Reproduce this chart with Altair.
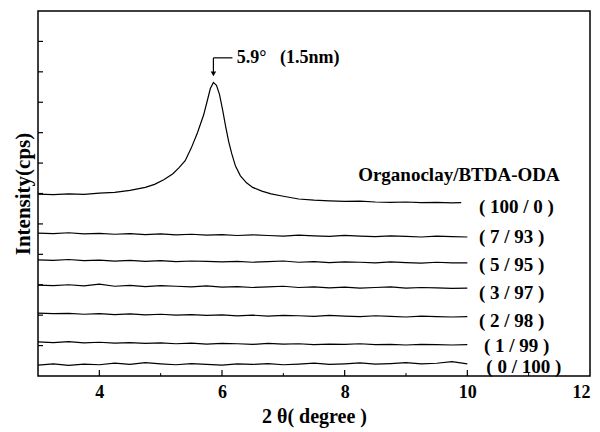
import altair as alt
import pandas as pd

# ---- data ----
x_flat = [3.0, 3.25, 3.5, 3.75, 4.0, 4.25, 4.5, 4.75, 5.0, 5.25, 5.5, 5.75, 6.0, 6.25, 6.5,
          6.75, 7.0, 7.25, 7.5, 7.75, 8.0, 8.25, 8.5, 8.75, 9.0, 9.25, 9.5, 9.75, 10.0]

y_0_100 = [0.36, 0.40, 0.35, 0.39, 0.37, 0.42, 0.38, 0.44, 0.40, 0.37, 0.41, 0.38, 0.36, 0.40, 0.38,
           0.41, 0.37, 0.39, 0.42, 0.38, 0.40, 0.43, 0.39, 0.41, 0.44, 0.40, 0.42, 0.47, 0.40]
y_1_99 = [1.12, 1.10, 1.13, 1.09, 1.11, 1.08, 1.10, 1.07, 1.09, 1.06, 1.08, 1.05, 1.07, 1.06, 1.04,
          1.07, 1.05, 1.06, 1.03, 1.05, 1.04, 1.06, 1.03, 1.04, 1.02, 1.04, 1.03, 1.02, 1.03]
y_2_98 = [2.07, 2.05, 2.06, 2.03, 2.05, 2.02, 2.04, 2.01, 2.03, 2.00, 2.02, 1.99, 2.01, 1.98, 2.00,
          1.97, 1.99, 1.98, 1.96, 1.99, 1.97, 1.95, 1.98, 1.96, 1.94, 1.97, 1.95, 1.94, 1.95]
y_3_97 = [2.99, 2.97, 3.00, 2.96, 3.02, 2.95, 2.98, 2.94, 2.97, 2.95, 2.93, 2.96, 2.92, 2.94, 2.91,
          2.93, 2.95, 2.91, 2.93, 2.90, 2.92, 2.89, 2.91, 2.93, 2.89, 2.91, 2.90, 2.88, 2.89]
y_5_95 = [3.82, 3.80, 3.83, 3.79, 3.81, 3.78, 3.80, 3.77, 3.79, 3.76, 3.78, 3.77, 3.75, 3.77, 3.74,
          3.76, 3.78, 3.74, 3.76, 3.73, 3.75, 3.74, 3.72, 3.75, 3.73, 3.71, 3.74, 3.72, 3.72]
y_7_93 = [4.70, 4.68, 4.71, 4.67, 4.69, 4.66, 4.68, 4.65, 4.67, 4.64, 4.66, 4.63, 4.65, 4.62, 4.64,
          4.62, 4.60, 4.63, 4.61, 4.59, 4.62, 4.60, 4.58, 4.61, 4.59, 4.57, 4.60, 4.58, 4.57]

x_100_0 = [3.0, 3.25, 3.5, 3.75, 4.0, 4.25, 4.5, 4.75, 4.9, 5.05, 5.2, 5.3, 5.4, 5.5, 5.6, 5.7,
           5.76, 5.81, 5.86, 5.91, 5.96, 6.01, 6.06, 6.11, 6.16, 6.22, 6.3, 6.4, 6.5, 6.65, 6.8,
           7.0, 7.25, 7.5, 7.75, 8.0, 8.25, 8.5, 8.75, 9.0, 9.25, 9.5, 9.75, 9.9]
y_100_0 = [5.98, 5.96, 5.99, 5.97, 6.01, 6.04, 6.10, 6.20, 6.30, 6.45, 6.65, 6.85, 7.08, 7.50, 8.00, 8.58,
           9.05, 9.45, 9.65, 9.56, 9.25, 8.75, 8.20, 7.70, 7.30, 6.90, 6.58, 6.35, 6.20, 6.08, 5.99,
           5.91, 5.82, 5.78, 5.76, 5.74, 5.75, 5.72, 5.71, 5.72, 5.70, 5.71, 5.69, 5.70]

series_names = ["( 100 / 0 )", "( 7 / 93 )", "( 5 / 95 )", "( 3 / 97 )", "( 2 / 98 )", "( 1 / 99 )", "( 0 / 100 )"]
label_x = [10.19, 10.19, 10.19, 10.19, 10.19, 10.27, 10.31]
label_y = [5.56, 4.56, 3.64, 2.72, 1.80, 1.00, 0.30]

x_ticks_major = [4, 6, 8, 10]
x_ticks_minor = [5, 7, 9, 11]
y_ticks = [1, 2, 3, 4, 5, 6, 7, 8, 9, 10, 11]

peak_x = 5.86
peak_text = "5.9°\u00a0\u00a0\u00a0(1.5nm)"
legend_title = "Organoclay/BTDA-ODA"

# ---- build tables ----
rows = []
flat = {"( 7 / 93 )": y_7_93, "( 5 / 95 )": y_5_95, "( 3 / 97 )": y_3_97,
        "( 2 / 98 )": y_2_98, "( 1 / 99 )": y_1_99, "( 0 / 100 )": y_0_100}
for name, ys in flat.items():
    for xv, yv in zip(x_flat, ys):
        rows.append({"s": name, "x": xv, "y": yv})
for xv, yv in zip(x_100_0, y_100_0):
    rows.append({"s": "( 100 / 0 )", "x": xv, "y": yv})
lines_df = pd.DataFrame(rows)

labels_df = pd.DataFrame({"s": series_names, "x": label_x, "y": label_y})

SERIF = "Liberation Serif"
xscale = alt.Scale(domain=[3, 12], nice=False, zero=False)
yscale = alt.Scale(domain=[0, 12], nice=False, zero=False)

X = alt.X("x:Q", scale=xscale,
          axis=alt.Axis(values=[4, 6, 8, 10, 12], format="d", tickSize=0, domain=False, grid=False,
                        labelFont=SERIF, labelFontWeight="bold", labelFontSize=18,
                        labelColor="black", labelPadding=7,
                        title="2 θ( degree )", titleFont=SERIF, titleFontWeight="bold",
                        titleFontSize=20, titleColor="black", titlePadding=5))
Y = alt.Y("y:Q", scale=yscale,
          axis=alt.Axis(labels=False, ticks=False, domain=False, grid=False,
                        title="Intensity(cps)", titleFont=SERIF, titleFontWeight="bold",
                        titleFontSize=21, titleColor="black", titlePadding=5))

base = alt.Chart(lines_df)
lines = base.mark_line(color="black", strokeWidth=1.2).encode(x=X, y=Y, detail="s:N")

xt_major = alt.Chart(pd.DataFrame({"x": x_ticks_major})).mark_rule(color="black", strokeWidth=1.2).encode(
    x="x:Q", y=alt.value(365), y2=alt.value(359))
xt_minor = alt.Chart(pd.DataFrame({"x": x_ticks_minor})).mark_rule(color="black", strokeWidth=1).encode(
    x="x:Q", y=alt.value(365), y2=alt.value(362))
yt = alt.Chart(pd.DataFrame({"y": y_ticks})).mark_rule(color="black", strokeWidth=1.2).encode(
    y="y:Q", x=alt.value(0), x2=alt.value(5))

labels = alt.Chart(labels_df).mark_text(align="left", baseline="middle", font=SERIF,
                                        fontWeight="bold", fontSize=19, color="black").encode(
    x="x:Q", y="y:Q", text="s:N")

title_txt = alt.Chart(pd.DataFrame({"x": [8.22], "y": [6.61], "t": [legend_title]})).mark_text(
    align="left", baseline="middle", font=SERIF, fontWeight="bold", fontSize=19, color="black").encode(
    x="x:Q", y="y:Q", text="t:N")

arrow_v = alt.Chart(pd.DataFrame({"x": [peak_x], "y": [10.46], "y2": [9.95]})).mark_rule(
    color="black", strokeWidth=1.2).encode(x="x:Q", y="y:Q", y2="y2:Q")
arrow_h = alt.Chart(pd.DataFrame({"x": [peak_x], "x2": [6.17], "y": [10.46]})).mark_rule(
    color="black", strokeWidth=1.2).encode(x="x:Q", x2="x2:Q", y="y:Q")
arrow_head = alt.Chart(pd.DataFrame({"x": [peak_x], "y": [9.93]})).mark_point(
    shape="triangle-down", filled=True, color="black", size=30, opacity=1).encode(x="x:Q", y="y:Q")
peak_lbl = alt.Chart(pd.DataFrame({"x": [6.24], "y": [10.46], "t": [peak_text]})).mark_text(
    align="left", baseline="middle", font=SERIF, fontWeight="bold", fontSize=18, color="black").encode(
    x="x:Q", y="y:Q", text="t:N")

chart = alt.layer(lines, xt_major, xt_minor, yt, labels, title_txt, arrow_v, arrow_h, arrow_head, peak_lbl).properties(
    width=552, height=365,
    autosize="none",
    padding={"left": 30, "top": 3, "right": 2, "bottom": 53},
    background="white",
).configure_view(stroke="black", strokeWidth=1.5)

chart.save("out.html", embed_options={"renderer": "svg", "actions": False})
